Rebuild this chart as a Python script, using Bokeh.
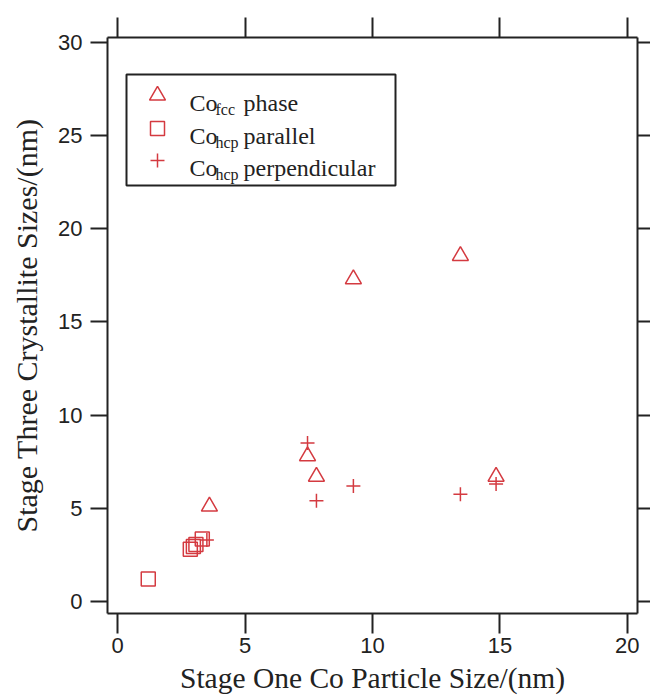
from bokeh.plotting import figure
from bokeh.models import (Range1d, LinearAxis, SingleIntervalTicker, Label,
                          BoxAnnotation, CustomLabelingPolicy)
from bokeh.embed import file_html
from bokeh.resources import INLINE

# Stage one Co particle size (x) vs stage three crystallite sizes (y), in nm
fcc_x = [3.6, 7.45, 7.8, 9.25, 13.45, 14.85]
fcc_y = [5.1, 7.8, 6.7, 17.3, 18.55, 6.7]

hcp_par_x = [1.2, 2.85, 2.97, 3.07, 3.32]
hcp_par_y = [1.2, 2.8, 2.95, 3.05, 3.35]

hcp_perp_x = [3.5, 7.45, 7.8, 9.25, 13.45, 14.85]
hcp_perp_y = [3.3, 8.5, 5.4, 6.2, 5.75, 6.3]

x_ticks = [0, 5, 10, 15, 20]
y_ticks = [0, 5, 10, 15, 20, 25, 30]

RED = "#d43a40"
INK = "#222222"
SERIF = "Liberation Serif"
SANS = "Liberation Sans"

W, H = 650, 696
B_LEFT, B_RIGHT, B_TOP, B_BOTTOM = 107, 13, 37, 83
X0, X1 = -0.4, 20.4
Y0, Y1 = -0.65, 30.27

p = figure(width=W, height=H, x_range=Range1d(X0, X1), y_range=Range1d(Y0, Y1),
           output_backend="svg", toolbar_location=None,
           x_axis_location=None, y_axis_location=None,
           min_border_left=B_LEFT, min_border_right=B_RIGHT,
           min_border_top=B_TOP, min_border_bottom=B_BOTTOM,
           background_fill_color="white", border_fill_color="white")
p.grid.visible = False
p.outline_line_color = None

# the mirror axes on top and right carry ticks only
no_labels = CustomLabelingPolicy(code="return []")


def make_axis(ticks, tick_len, labelled):
    ax = LinearAxis(ticker=SingleIntervalTicker(interval=ticks[1] - ticks[0]))
    ax.axis_line_color = INK
    ax.axis_line_width = 2
    ax.major_tick_line_color = INK
    ax.major_tick_line_width = 2
    ax.major_tick_out = tick_len
    ax.major_tick_in = 0
    ax.minor_tick_line_color = None
    if labelled:
        ax.major_label_text_font = SANS
        ax.major_label_text_font_size = "22px"
        ax.major_label_text_color = INK
        ax.axis_label_text_font = SERIF
        ax.axis_label_text_font_style = "normal"
        ax.axis_label_text_color = INK
    else:
        ax.major_label_policy = no_labels
        ax.major_label_text_font_size = "0px"
        ax.major_label_standoff = 0
    return ax


bottom_axis = make_axis(x_ticks, 20, True)
bottom_axis.axis_label = "Stage One Co Particle Size/(nm)"
bottom_axis.axis_label_text_font_size = "29.5px"
bottom_axis.major_label_standoff = 4
bottom_axis.axis_label_standoff = 6

left_axis = make_axis(y_ticks, 17, True)
left_axis.axis_label = "Stage Three Crystallite Sizes/(nm)"
left_axis.axis_label_text_font_size = "30px"
left_axis.major_label_standoff = 8
left_axis.axis_label_standoff = 12

top_axis = make_axis(x_ticks, 20, False)
right_axis = make_axis(y_ticks, 13, False)

p.add_layout(bottom_axis, "below")
p.add_layout(left_axis, "left")
p.add_layout(top_axis, "above")
p.add_layout(right_axis, "right")

# data markers
p.scatter(hcp_par_x, hcp_par_y, marker="square", size=14, fill_color=None,
          line_color=RED, line_width=1.5)
p.scatter(fcc_x, fcc_y, marker="triangle", size=16, fill_color=None,
          line_color=RED, line_width=1.5)
p.scatter(hcp_perp_x, hcp_perp_y, marker="cross", size=14,
          line_color=RED, line_width=1.5)

# legend, laid out in canvas pixels and converted to data coordinates
FW = W - B_LEFT - B_RIGHT
FH = H - B_TOP - B_BOTTOM


def cx(px):
    return X0 + (px - B_LEFT) * (X1 - X0) / FW


def cy(py):
    return Y1 - (py - B_TOP) * (Y1 - Y0) / FH


p.add_layout(BoxAnnotation(left=cx(126), right=cx(395), top=cy(74), bottom=cy(185),
                           fill_color="white", fill_alpha=1.0,
                           line_color=INK, line_alpha=1.0, line_width=2,
                           level="underlay"))

legend_rows = [
    ("triangle", 16, "fcc", "phase"),
    ("square", 14, "hcp", "parallel"),
    ("cross", 14, "hcp", "perpendicular"),
]
row_mid = [95, 128, 160]
row_base = [102, 135, 167]
for (marker, size, sub, rest), mid, base in zip(legend_rows, row_mid, row_base):
    p.scatter([cx(157)], [cy(mid)], marker=marker, size=size, fill_color=None,
              line_color=RED, line_width=1.5)
    p.add_layout(Label(x=cx(189), y=cy(base), text="Co", text_font=SERIF,
                       text_font_size="24px", text_color=INK,
                       text_baseline="alphabetic"))
    p.add_layout(Label(x=cx(215), y=cy(base + 7), text=sub, text_font=SERIF,
                       text_font_size="16px", text_color=INK,
                       text_baseline="alphabetic"))
    p.add_layout(Label(x=cx(243), y=cy(base), text=rest, text_font=SERIF,
                       text_font_size="24px", text_color=INK,
                       text_baseline="alphabetic"))

open("out.html", "w").write(file_html(p, INLINE))
